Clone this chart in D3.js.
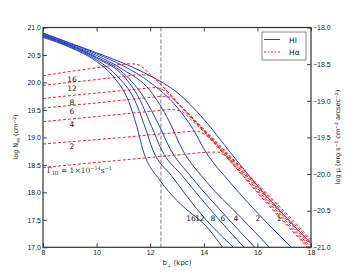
<!DOCTYPE html>
<html><head><meta charset="utf-8">
<script src="https://cdn.jsdelivr.net/npm/d3@7"></script>
<style>body{margin:0;background:#fff}svg{display:block;font-family:"DejaVu Sans",sans-serif}</style>
</head><body><svg id="c" width="345" height="276"></svg>
<script>
// Gamma values (units of 1e-14 s^-1)
const gammaLabels = ["1","2","4","6","8","12","16"];
const xTicks = [8,10,12,14,16,18];
const yLeftTicks = [17.0,17.5,18.0,18.5,19.0,19.5,20.0,20.5,21.0];
const yRightTicks = [-21.0,-20.5,-20.0,-19.5,-19.0,-18.5,-18.0];
const bDivide = 12.4;

// HI column density curves  [b (kpc), log N_HI]
const hi1  = [[8,20.90],[9,20.72],[10,20.54],[11,20.35],[12,20.12],[13,19.82],[14,19.33],[15,18.72],[16,18.12],[17,17.58],[18,17.07]];
const hi2  = [[8,20.89],[9,20.71],[10,20.52],[11,20.30],[12,20.00],[13,19.55],[13.6,19.15],[14.03,18.77],[15,18.17],[16.19,17.53],[17.27,17.0]];
const hi4  = [[8,20.875],[9,20.69],[10,20.49],[11,20.23],[12,19.85],[12.7,19.30],[13.21,18.77],[14,18.25],[15.41,17.53],[16.45,17.0]];
const hi6  = [[8,20.86],[9,20.68],[10,20.46],[11,20.17],[11.8,19.70],[12.3,19.25],[12.77,18.77],[13.5,18.30],[14.89,17.53],[15.9,17.0]];
const hi8  = [[8,20.85],[9,20.67],[10,20.44],[11,20.12],[11.6,19.70],[12.05,19.20],[12.43,18.77],[13.2,18.30],[14.52,17.53],[15.5,17.0]];
const hi12 = [[8,20.835],[9,20.655],[10,20.41],[10.8,20.10],[11.4,19.70],[11.8,19.20],[12.10,18.77],[12.8,18.30],[14.03,17.53],[15.1,17.0]];
const hi16 = [[8,20.82],[9,20.64],[10,20.38],[10.6,20.12],[11.2,19.65],[11.5,19.20],[11.73,18.77],[12.36,18.22],[13.0,17.85],[14.22,17.31],[14.7,17.0]];

// H-alpha surface brightness curves [b (kpc), log mu]
const ha1  = [[8,-19.91],[9,-19.876],[10,-19.842],[11,-19.808],[12,-19.774],[13,-19.74],[14,-19.706],[14.5,-19.70],[14.8,-19.75],[15.2,-19.915],[16,-20.255],[17,-20.661],[18,-21.051]];
const ha2  = [[8,-19.59],[9,-19.56],[10,-19.53],[11,-19.50],[12,-19.465],[13,-19.435],[13.7,-19.415],[14.0,-19.45],[14.3,-19.55],[15,-19.836],[16,-20.238],[17,-20.639],[18,-21.029]];
const ha4  = [[8,-19.285],[9,-19.25],[10,-19.215],[11,-19.18],[12,-19.145],[12.8,-19.12],[13.2,-19.15],[13.5,-19.25],[14,-19.424],[15,-19.820],[16,-20.216],[17,-20.612],[18,-21.002]];
const ha6  = [[8,-19.10],[9,-19.065],[10,-19.03],[11,-18.99],[12,-18.955],[12.5,-18.94],[12.8,-18.96],[13.1,-19.07],[13.5,-19.225],[14,-19.414],[15,-19.804],[16,-20.194],[17,-20.584],[18,-20.974]];
const ha8  = [[8,-18.97],[9,-18.93],[10,-18.895],[11,-18.86],[12,-18.825],[12.2,-18.82],[12.5,-18.855],[12.8,-18.95],[13,-19.021],[14,-19.406],[15,-19.791],[16,-20.176],[17,-20.562],[18,-20.952]];
const ha12 = [[8,-18.79],[9,-18.75],[10,-18.71],[11,-18.67],[11.6,-18.645],[12.0,-18.66],[12.4,-18.78],[13,-19.017],[14,-19.396],[15,-19.775],[16,-20.154],[17,-20.535],[18,-20.925]];
const ha16 = [[8,-18.66],[9,-18.60],[10,-18.55],[10.9,-18.505],[11.3,-18.495],[11.6,-18.515],[12.0,-18.64],[12.4,-18.78],[13,-19.014],[14,-19.387],[15,-19.760],[16,-20.133],[17,-20.507],[18,-20.897]];

const hiCurves = [hi1,hi2,hi4,hi6,hi8,hi12,hi16];
const haCurves = [ha1,ha2,ha4,ha6,ha8,ha12,ha16];

const svg = d3.select("#c");
const L=43, R=311, T=27.5, B=247.3;
const x = d3.scaleLinear().domain([8,18]).range([L,R]);
const yL = d3.scaleLinear().domain([17,21]).range([B,T]);
const yR = d3.scaleLinear().domain([-21,-18]).range([B,T]);

svg.append("defs").append("clipPath").attr("id","clip")
  .append("rect").attr("x",L).attr("y",T).attr("width",R-L).attr("height",B-T);

const plot = svg.append("g").attr("clip-path","url(#clip)");

// vertical divider
plot.append("line").attr("x1",x(bDivide)).attr("x2",x(bDivide)).attr("y1",T).attr("y2",B)
  .attr("stroke","#999").attr("stroke-width",1.3).attr("stroke-dasharray","4,2");

const lineHI = d3.line().x(d=>x(d[0])).y(d=>yL(d[1])).curve(d3.curveMonotoneX);
const lineHA = d3.line().x(d=>x(d[0])).y(d=>yR(d[1])).curve(d3.curveMonotoneX);

hiCurves.forEach(c=>{
  plot.append("path").attr("d",lineHI(c)).attr("fill","none")
    .attr("stroke","#2142b8").attr("stroke-width",1);
});
haCurves.forEach(c=>{
  plot.append("path").attr("d",lineHA(c)).attr("fill","none")
    .attr("stroke","#e8262a").attr("stroke-width",1).attr("stroke-dasharray","3,2");
});

// axes
const fs = 7;
const ax = (g)=>{g.selectAll("text").attr("font-size",fs).attr("fill","#222");
  g.selectAll("line").attr("stroke","#444"); g.select(".domain").remove();};
svg.append("g").attr("transform",`translate(0,${B})`)
  .call(d3.axisBottom(x).tickValues(xTicks).tickSize(-4).tickPadding(3).tickFormat(d3.format("d"))).call(ax);
svg.append("g").attr("transform",`translate(0,${T})`)
  .call(d3.axisTop(x).tickValues(xTicks).tickSize(-4).tickFormat("")).call(ax);
svg.append("g").attr("transform",`translate(${L},0)`)
  .call(d3.axisLeft(yL).tickValues(yLeftTicks).tickSize(-4).tickPadding(2).tickFormat(d3.format(".1f"))).call(ax);
svg.append("g").attr("transform",`translate(${R},0)`)
  .call(d3.axisRight(yR).tickValues(yRightTicks).tickSize(-4).tickPadding(2).tickFormat(d3.format(".1f"))).call(ax);

svg.append("rect").attr("x",L).attr("y",T).attr("width",R-L).attr("height",B-T)
  .attr("fill","none").attr("stroke","#333").attr("stroke-width",1.2);

// axis titles
const t1 = svg.append("text").attr("transform",`translate(18,137) rotate(-90)`)
  .attr("text-anchor","middle").attr("font-size",6.5).attr("fill","#222");
t1.append("tspan").text("log N");
t1.append("tspan").text("HI").attr("font-size",4.5).attr("dy",1.5);
t1.append("tspan").text(" (cm").attr("dy",-1.5);
t1.append("tspan").text("−2").attr("font-size",4.5).attr("dy",-2.5);
t1.append("tspan").text(")").attr("dy",2.5);

const t2 = svg.append("text").attr("transform",`translate(340,137) rotate(-90)`)
  .attr("text-anchor","middle").attr("font-size",6.5).attr("fill","#222");
t2.append("tspan").text("log μ (erg s");
t2.append("tspan").text("−1").attr("font-size",4.5).attr("dy",-2.5);
t2.append("tspan").text(" cm").attr("dy",2.5);
t2.append("tspan").text("−2").attr("font-size",4.5).attr("dy",-2.5);
t2.append("tspan").text(" arcsec").attr("dy",2.5);
t2.append("tspan").text("−2").attr("font-size",4.5).attr("dy",-2.5);
t2.append("tspan").text(")").attr("dy",2.5);

const t3 = svg.append("text").attr("x",177).attr("y",265).attr("text-anchor","middle")
  .attr("font-size",7).attr("fill","#222");
t3.append("tspan").text("b");
t3.append("tspan").text("⊥").attr("font-size",5).attr("dy",1.5);
t3.append("tspan").text(" (kpc)").attr("dy",-1.5);

// labels for H-alpha curves (left)
const haLabelY = [null,146,124,111,102,88,79];
gammaLabels.forEach((g,i)=>{
  if(i===0) return;
  svg.append("text").attr("x",72).attr("y",haLabelY[i]+3).attr("text-anchor","middle")
    .attr("font-size",7.5).attr("fill","#222").text(g);
});
const gt = svg.append("text").attr("x",47).attr("y",173).attr("font-size",7.5)
  .attr("fill","#333").attr("font-family","'DejaVu Serif',serif");
gt.append("tspan").text("Γ");
gt.append("tspan").text("HI").attr("font-size",5).attr("dy",1.5);
gt.append("tspan").text(" = 1×10").attr("dy",-1.5);
gt.append("tspan").text("−14").attr("font-size",5).attr("dy",-3);
gt.append("tspan").text("s").attr("dy",3);
gt.append("tspan").text("−1").attr("font-size",5).attr("dy",-3);

// labels for HI curves (bottom)
const hiLabelX = [279,258,236,223,213,200,191];
gammaLabels.forEach((g,i)=>{
  svg.append("text").attr("x",hiLabelX[i]).attr("y",221).attr("text-anchor","middle")
    .attr("font-size",7.5).attr("fill","#222").text(g);
});

// legend
const lg = svg.append("g");
lg.append("rect").attr("x",262).attr("y",32).attr("width",44).attr("height",28)
  .attr("fill","#fff").attr("stroke","#888").attr("stroke-width",1);
lg.append("line").attr("x1",264).attr("x2",280).attr("y1",39.5).attr("y2",39.5)
  .attr("stroke","#2142b8").attr("stroke-width",1);
lg.append("line").attr("x1",264).attr("x2",280).attr("y1",52).attr("y2",52)
  .attr("stroke","#e8262a").attr("stroke-width",1).attr("stroke-dasharray","2,1.5");
lg.append("text").attr("x",289).attr("y",42.5).attr("font-size",7.5).attr("fill","#222").text("HI");
lg.append("text").attr("x",289).attr("y",55).attr("font-size",7.5).attr("fill","#222").text("Hα");
</script></body></html>
